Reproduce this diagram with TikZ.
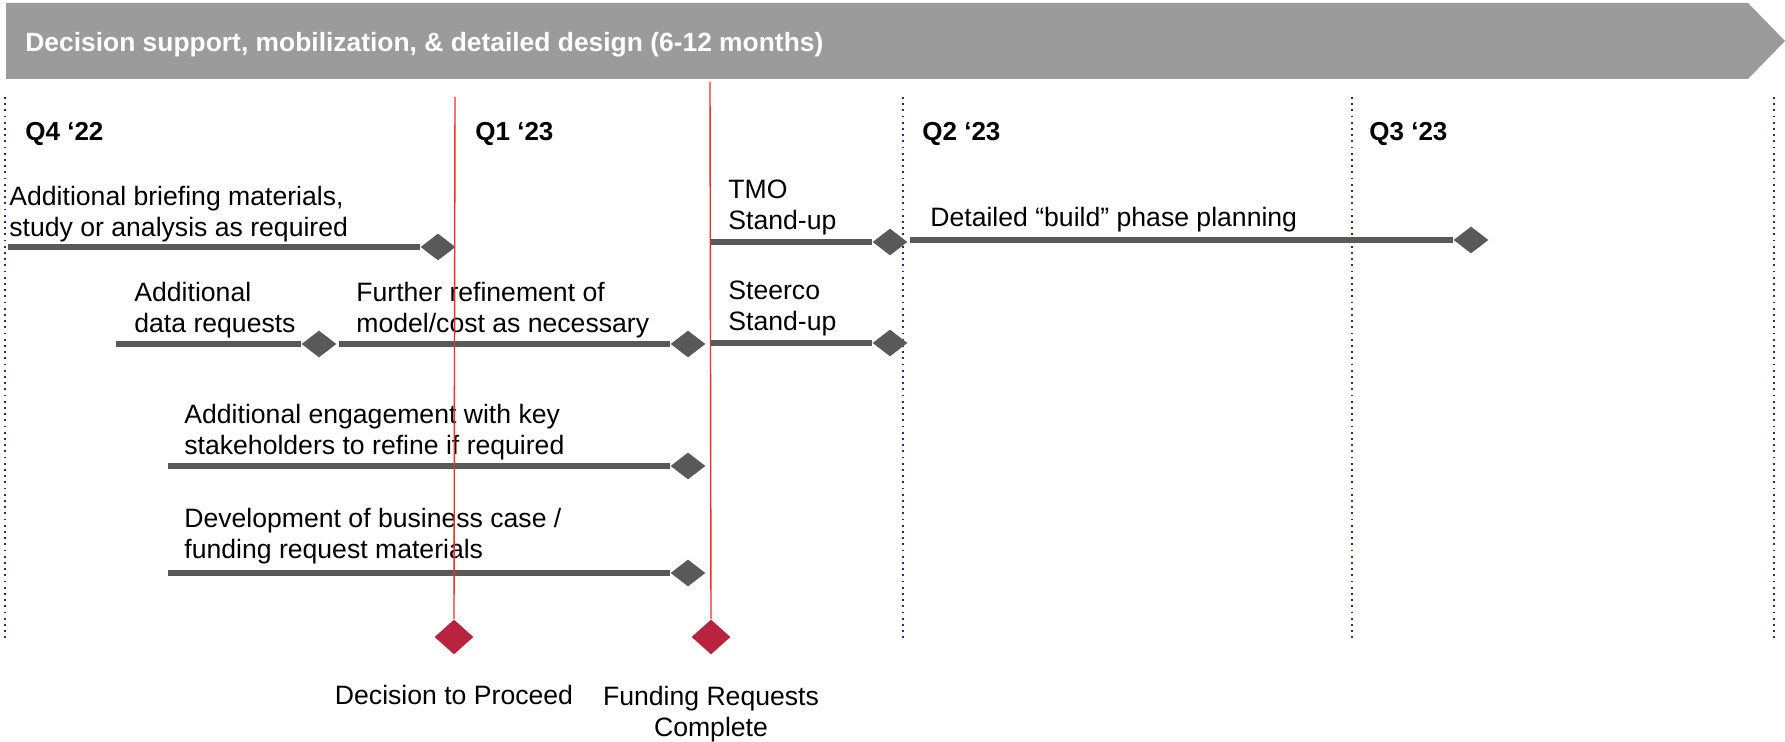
\documentclass[tikz,border=0pt]{standalone}
\usepackage{fontspec}
\setmainfont{Liberation Sans}
\usetikzlibrary{shapes.geometric}
\definecolor{bannergray}{HTML}{9B9B9B}
\definecolor{bargray}{HTML}{595959}
\definecolor{redline}{HTML}{E5332A}
\definecolor{milered}{HTML}{B8243F}
\definecolor{quarterblue}{HTML}{2B2B80}
\tikzset{
  txt/.style={anchor=south west, inner sep=0pt, text depth=0pt, align=left, font=\fontsize{13.3}{15.5}\selectfont},
  qtr/.style={anchor=base west, inner sep=0pt, font=\fontsize{13}{15.5}\selectfont\bfseries},
  bar/.style={draw=bargray, line width=2.8pt},
  gem/.style={diamond, fill=bargray, inner sep=0pt, minimum width=17.5pt, minimum height=13.5pt},
  redgem/.style={diamond, fill=milered, inner sep=0pt, minimum width=19.5pt, minimum height=17.5pt},
  mile/.style={draw=redline, line width=0.7pt},
  qline/.style={draw=quarterblue, line width=0.9pt, dash pattern=on 0.9pt off 2.2pt}
}
\begin{document}
\begin{tikzpicture}[x=0.5pt,y=-0.5pt]
\useasboundingbox (0,0) rectangle (1785,742);
% banner
\fill[bannergray] (6,3) -- (1748,3) -- (1785,41) -- (1748,79) -- (6,79) -- cycle;
\node[qtr, text=white, font=\fontsize{13.2}{15.5}\selectfont\bfseries] (title) at (25,52) {Decision support, mobilization, \& detailed design (6-12 months)};
% quarters
\foreach \x in {5,903,1352,1774}
  \draw[qline] (\x,97) -- (\x,641);
\node[qtr] (q4) at (25,141) {Q4 ‘22};
\node[qtr] (q1) at (475,141) {Q1 ‘23};
\node[qtr] (q2) at (922,141) {Q2 ‘23};
\node[qtr] (q3) at (1369,141) {Q3 ‘23};
% activities
\coordinate (brief0) at (8,247);
\node[gem] (brief) at (438,247) {};
\draw[bar] (brief0) -- (brief.west);
\node[txt] (briefTxt) at (9,237) {Additional briefing materials,\\study or analysis as required};
\coordinate (tmo0) at (710,242);
\node[gem] (tmo) at (890,242) {};
\draw[bar] (tmo0) -- (tmo.west);
\node[txt] (tmoTxt) at (728,230) {TMO\\Stand-up};
\coordinate (build0) at (910,240);
\node[gem] (build) at (1471,240) {};
\draw[bar] (build0) -- (build.west);
\node[txt] (buildTxt) at (930,227) {Detailed “build” phase planning};
\coordinate (data0) at (116,344);
\node[gem] (data) at (319,344) {};
\draw[bar] (data0) -- (data.west);
\node[txt] (dataTxt) at (134,333) {Additional\\data requests};
\coordinate (refine0) at (339,344);
\node[gem] (refine) at (688,344) {};
\draw[bar] (refine0) -- (refine.west);
\node[txt] (refineTxt) at (356,333) {Further refinement of\\model/cost as necessary};
\coordinate (steer0) at (711,343);
\node[gem] (steer) at (890,343) {};
\draw[bar] (steer0) -- (steer.west);
\node[txt] (steerTxt) at (728,331) {Steerco\\Stand-up};
\coordinate (engage0) at (168,466);
\node[gem] (engage) at (688,466) {};
\draw[bar] (engage0) -- (engage.west);
\node[txt] (engageTxt) at (184,455) {Additional engagement with key\\stakeholders to refine if required};
\coordinate (case0) at (168,573);
\node[gem] (case) at (688,573) {};
\draw[bar] (case0) -- (case.west);
\node[txt] (caseTxt) at (184,559) {Development of business case /\\funding request materials};
% milestones
\node[redgem] (decide) at (454,637) {};
\node[redgem] (fund) at (711,637) {};
\coordinate (decideTop) at (455,97);
\coordinate (fundTop) at (710,82);
\draw[mile] (decideTop) -- (decide.north);
\draw[mile] (fundTop) -- (fund.north);
\node[txt, anchor=south, align=center] (decideTxt) at (454,705) {Decision to Proceed};
\node[txt, anchor=south, align=center] (fundTxt) at (711,737) {Funding Requests\\Complete};
\end{tikzpicture}
\end{document}
